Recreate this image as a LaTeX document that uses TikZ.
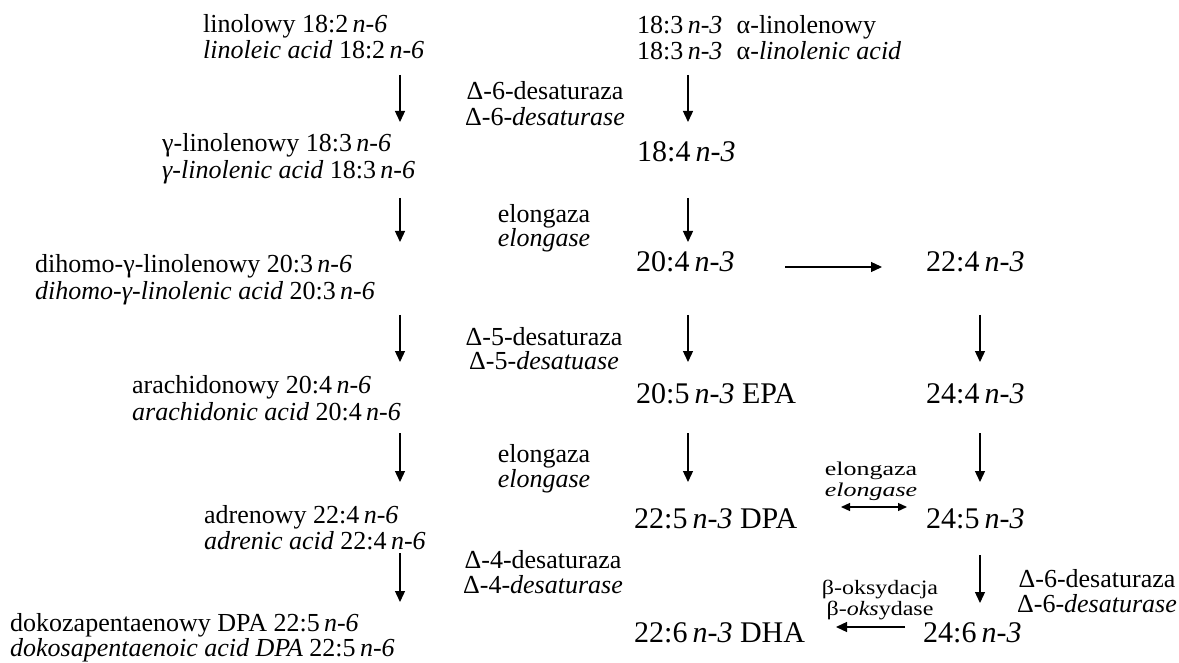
\documentclass[tikz,border=0pt]{standalone}
\usepackage{fontspec}
\usepackage{graphicx}
\setmainfont{Liberation Serif}
\usetikzlibrary{arrows.meta}
\newcommand\nsix{\,\textit{n-6}}
\newcommand\nthree{\,\textit{n-3}}
\newcommand\squash[2]{\scalebox{1}[#1]{#2}}
\tikzset{
  lbl/.style={inner sep=0pt, anchor=base west, font=\fontsize{26}{28}\selectfont},
  big/.style={inner sep=0pt, anchor=base west, font=\fontsize{30}{32}\selectfont},
  enz/.style={inner sep=0pt, anchor=base, font=\fontsize{26}{28}\selectfont},
  enzs/.style={inner sep=0pt, anchor=base, font=\fontsize{24}{26}\selectfont},
  arr/.style={-{Triangle[length=11pt,width=10pt]}, line width=1.3pt},
  darr/.style={{Triangle[length=9pt,width=8pt]}-{Triangle[length=9pt,width=8pt]}, line width=1.3pt},
}
\begin{document}
\begin{tikzpicture}[x=1pt,y=-1pt]
\useasboundingbox (0,0) rectangle (1179,663);
% left column (n-6)
\node[lbl] (l1a) at (203,33) {linolowy 18:2\nsix};
\node[lbl] (l1b) at (203,59) {\textit{linoleic acid} 18:2\nsix};
\node[lbl] (l2a) at (162,152) {γ-linolenowy 18:3\nsix};
\node[lbl] (l2b) at (162,179) {\textit{γ-linolenic acid} 18:3\nsix};
\node[lbl] (l3a) at (35,273) {dihomo-γ-linolenowy 20:3\nsix};
\node[lbl] (l3b) at (35,300) {\textit{dihomo-γ-linolenic acid} 20:3\nsix};
\node[lbl] (l4a) at (132,393) {arachidonowy 20:4\nsix};
\node[lbl] (l4b) at (132,420) {\textit{arachidonic acid} 20:4\nsix};
\node[lbl] (l5a) at (204,523) {adrenowy 22:4\nsix};
\node[lbl] (l5b) at (204,549) {\textit{adrenic acid} 22:4\nsix};
\node[lbl] (l6a) at (10,631) {dokozapentaenowy DPA 22:5\nsix};
\node[lbl] (l6b) at (10,656) {\textit{dokosapentaenoic acid DPA} 22:5\nsix};
% right columns (n-3)
\node[lbl] (r1a) at (637,34) {18:3\nthree\hspace{0.55em}α-linolenowy};
\node[lbl] (r1b) at (637,60) {18:3\nthree\hspace{0.55em}α-\textit{linolenic acid}};
\node[big] (r2) at (637,162) {18:4\nthree};
\node[big] (r3) at (636,272) {20:4\nthree};
\node[big] (s3) at (926,272) {22:4\nthree};
\node[big] (r4) at (636,403) {20:5\nthree{} EPA};
\node[big] (s4) at (926,403) {24:4\nthree};
\node[big] (r5) at (634,528) {22:5\nthree{} DPA};
\node[big] (s5) at (926,528) {24:5\nthree};
\node[big] (r6) at (634,642) {22:6\nthree{} DHA};
\node[big] (s6) at (923,642) {24:6\nthree};
% enzyme labels
\node[enz] (e1a) at (545,100) {Δ-6-desaturaza};
\node[enz] (e1b) at (545,126) {Δ-6-\textit{desaturase}};
\node[enz] (e2a) at (544,223) {elongaza};
\node[enz] (e2b) at (544,247) {\textit{elongase}};
\node[enz] (e3a) at (544,345) {Δ-5-desaturaza};
\node[enz] (e3b) at (544,370) {Δ-5-\textit{desatuase}};
\node[enz] (e4a) at (544,462) {elongaza};
\node[enz] (e4b) at (544,487) {\textit{elongase}};
\node[enz] (e5a) at (543,568) {Δ-4-desaturaza};
\node[enz] (e5b) at (543,593) {Δ-4-\textit{desaturase}};
\node[enz] (e6a) at (1097,587) {Δ-6-desaturaza};
\node[enz] (e6b) at (1097,612) {Δ-6-\textit{desaturase}};
\node[enz] (e7a) at (871,475) {\squash{0.75}{elongaza}};
\node[enz] (e7b) at (871,496) {\squash{0.75}{\textit{elongase}}};
\node[enzs] (e8a) at (880,594) {\squash{0.85}{β-oksydacja}};
\node[enzs] (e8b) at (880,615) {\squash{0.85}{β-\textit{oks}ydase}};
% vertical arrows
\foreach \n/\x/\ya/\yb in {1/400/75/122, 2/400/198/242, 3/400/315/362, 4/400/433/482, 5/400/553/602,
  6/688/75/122, 7/688/198/242, 8/688/315/362, 9/688/433/482,
  10/980/315/362, 11/980/433/482, 12/980/555/603}{
  \coordinate (as\n) at (\x,\ya);
  \coordinate (ae\n) at (\x,\yb);
  \draw[arr] (as\n) -- (ae\n);
}
% horizontal arrows
\coordinate (h1s) at (785,267); \coordinate (h1e) at (882,267);
\draw[arr] (h1s) -- (h1e);
\coordinate (h2s) at (841,507); \coordinate (h2e) at (907,507);
\draw[darr] (h2s) -- (h2e);
\coordinate (h3s) at (905,627); \coordinate (h3e) at (836,627);
\draw[arr] (h3s) -- (h3e);
\end{tikzpicture}
\end{document}
